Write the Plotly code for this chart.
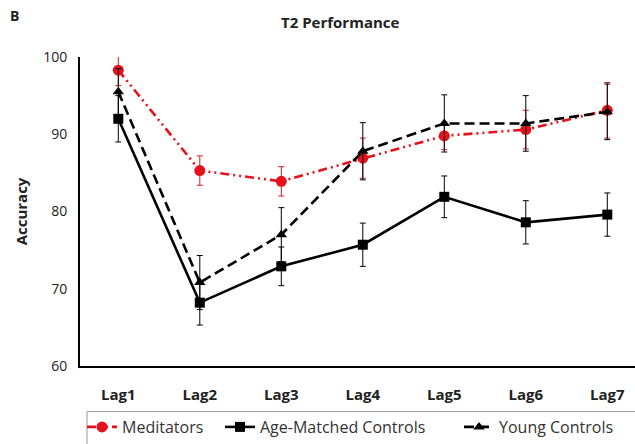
import plotly.graph_objects as go

categories = ["Lag1", "Lag2", "Lag3", "Lag4", "Lag5", "Lag6", "Lag7"]

meditators = [98.3, 85.3, 83.9, 86.9, 89.8, 90.6, 93.1]
meditators_err = [2.0, 1.9, 1.9, 2.6, 1.8, 2.5, 3.6]

age_matched = [92.0, 68.2, 72.9, 75.7, 81.9, 78.6, 79.6]
age_matched_err = [3.0, 2.9, 2.5, 2.8, 2.7, 2.8, 2.8]

young = [95.5, 70.8, 77.0, 87.8, 91.4, 91.4, 92.9]
young_err = [3.0, 3.5, 3.5, 3.7, 3.7, 3.6, 3.6]

FONT = "Open Sans"
W, H = 635, 444
L, R, T, B = 80, 0, 57, 75
PW, PH = W - L - R, H - T - B


def px(x):
    return (x - L) / PW


def py(y):
    return (H - B - y) / PH


fig = go.Figure()

fig.add_trace(go.Scatter(
    x=categories, y=meditators, name="Meditators", mode="lines+markers",
    line=dict(color="#e8101a", width=2.6, dash="9px,4px,2px,4px,2px,4px"),
    marker=dict(symbol="circle", size=11, color="#e8101a"),
    error_y=dict(type="data", array=meditators_err, visible=True,
                 color="#c0202a", thickness=1, width=3),
    legend="legend",
))
fig.add_trace(go.Scatter(
    x=categories, y=age_matched, name="Age-Matched Controls", mode="lines+markers",
    line=dict(color="black", width=2.6),
    marker=dict(symbol="square", size=10, color="black"),
    error_y=dict(type="data", array=age_matched_err, visible=True,
                 color="black", thickness=1, width=3),
    legend="legend2",
))
fig.add_trace(go.Scatter(
    x=categories, y=young, name="Young Controls", mode="lines+markers",
    line=dict(color="black", width=2.6, dash="10px,5px"),
    marker=dict(symbol="triangle-up", size=10, color="black"),
    error_y=dict(type="data", array=young_err, visible=True,
                 color="black", thickness=1, width=3),
    legend="legend3",
))

leg_common = dict(orientation="h", xanchor="left", yanchor="middle", y=py(431),
                  bgcolor="rgba(0,0,0,0)", borderwidth=0,
                  font=dict(family=FONT, size=16, color="#333333"))

fig.update_layout(
    width=W, height=H,
    margin=dict(l=L, r=R, t=T, b=B),
    paper_bgcolor="white", plot_bgcolor="white",
    font=dict(family=FONT, color="#222222", size=13),
    showlegend=True,
    legend=dict(x=px(82), **leg_common),
    legend2=dict(x=px(220), **leg_common),
    legend3=dict(x=px(459), **leg_common),
    shapes=[dict(type="rect", xref="paper", yref="paper",
                 x0=px(87), x1=px(645), y0=py(415), y1=py(455),
                 line=dict(color="#999999", width=1), fillcolor="rgba(0,0,0,0)",
                 layer="below")],
    annotations=[
        dict(text="<b>T2 Performance</b>", x=px(340), y=py(22), xref="paper", yref="paper",
             xanchor="center", yanchor="middle", showarrow=False,
             font=dict(family=FONT, size=15, color="#222222")),
        dict(text="<b>B</b>", x=px(14), y=py(15), xref="paper", yref="paper",
             xanchor="center", yanchor="middle", showarrow=False,
             font=dict(family=FONT, size=14, color="#222222")),
    ],
)

fig.update_xaxes(
    type="category", range=[-0.47, 6.34],
    showline=True, linecolor="black", linewidth=2,
    showgrid=False, ticks="", zeroline=False,
    tickfont=dict(family=FONT, size=15, color="#222222"),
    tickprefix="<b>", ticksuffix="</b>", ticklabelstandoff=14,
)
fig.update_yaxes(
    range=[60, 100], tickvals=[60, 70, 80, 90, 100],
    showline=True, linecolor="black", linewidth=2,
    showgrid=False, ticks="", zeroline=False,
    tickfont=dict(family=FONT, size=14, color="#222222"),
    tickprefix="<b>", ticksuffix="</b>", ticklabelstandoff=8,
    title=dict(text="<b>Accuracy</b>", font=dict(family=FONT, size=15, color="#222222"),
               standoff=12),
)

fig.write_html("out.html")
